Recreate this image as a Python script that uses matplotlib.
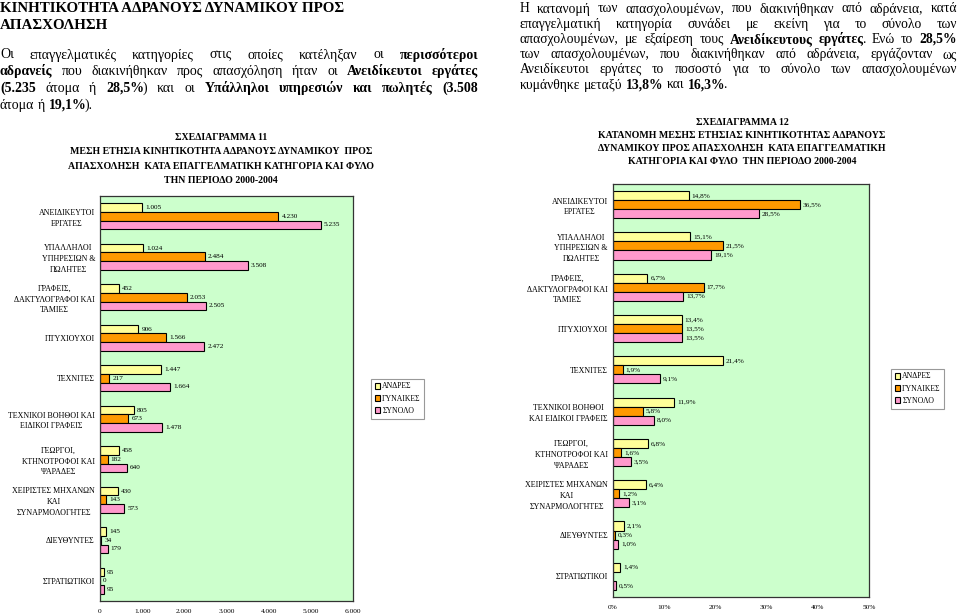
import numpy as np
import matplotlib
matplotlib.use("Agg")
import matplotlib.pyplot as plt
from matplotlib.patches import Patch

plt.rcParams["font.family"] = ["Liberation Serif", "DejaVu Serif"]

W, H = 960, 615

# ---- data -------------------------------------------------------------
series_names = ["ΑΝΔΡΕΣ", "ΓΥΝΑΙΚΕΣ", "ΣΥΝΟΛΟ"]
series_colors = ["#FFFF99", "#FF9900", "#FF99CC"]

cats_11 = ["ΑΝΕΙΔΙΚΕΥΤΟΙ\nΕΡΓΑΤΕΣ", "ΥΠΑΛΛΗΛΟΙ\nΥΠΗΡΕΣΙΩΝ &\nΠΩΛΗΤΕΣ",
           "ΓΡΑΦΕΙΣ,\nΔΑΚΤΥΛΟΓΡΑΦΟΙ ΚΑΙ\nΤΑΜΙΕΣ", "ΠΤΥΧΙΟΥΧΟΙ", "ΤΕΧΝΙΤΕΣ",
           "ΤΕΧΝΙΚΟΙ ΒΟΗΘΟΙ ΚΑΙ\nΕΙΔΙΚΟΙ ΓΡΑΦΕΙΣ",
           "ΓΕΩΡΓΟΙ,\nΚΤΗΝΟΤΡΟΦΟΙ ΚΑΙ\nΨΑΡΑΔΕΣ",
           "ΧΕΙΡΙΣΤΕΣ ΜΗΧΑΝΩΝ\nΚΑΙ\nΣΥΝΑΡΜΟΛΟΓΗΤΕΣ", "ΔΙΕΥΘΥΝΤΕΣ", "ΣΤΡΑΤΙΩΤΙΚΟΙ"]
men_11 = [1005, 1024, 452, 906, 1447, 805, 458, 430, 145, 95]
women_11 = [4230, 2484, 2053, 1566, 217, 673, 182, 143, 34, 0]
total_11 = [5235, 3508, 2505, 2472, 1664, 1478, 640, 573, 179, 95]
xticks_11 = [0, 1000, 2000, 3000, 4000, 5000, 6000]

cats_12 = ["ΑΝΕΙΔΙΚΕΥΤΟΙ\nΕΡΓΑΤΕΣ", "ΥΠΑΛΛΗΛΟΙ\nΥΠΗΡΕΣΙΩΝ &\nΠΩΛΗΤΕΣ",
           "ΓΡΑΦΕΙΣ,\nΔΑΚΤΥΛΟΓΡΑΦΟΙ ΚΑΙ\nΤΑΜΙΕΣ", "ΠΤΥΧΙΟΥΧΟΙ", "ΤΕΧΝΙΤΕΣ",
           "ΤΕΧΝΙΚΟΙ ΒΟΗΘΟΙ\nΚΑΙ ΕΙΔΙΚΟΙ ΓΡΑΦΕΙΣ",
           "ΓΕΩΡΓΟΙ,\nΚΤΗΝΟΤΡΟΦΟΙ ΚΑΙ\nΨΑΡΑΔΕΣ",
           "ΧΕΙΡΙΣΤΕΣ ΜΗΧΑΝΩΝ\nΚΑΙ\nΣΥΝΑΡΜΟΛΟΓΗΤΕΣ", "ΔΙΕΥΘΥΝΤΕΣ", "ΣΤΡΑΤΙΩΤΙΚΟΙ"]
men_12 = [14.8, 15.1, 6.7, 13.4, 21.4, 11.9, 6.8, 6.4, 2.1, 1.4]
women_12 = [36.5, 21.5, 17.7, 13.5, 1.9, 5.8, 1.6, 1.2, 0.3, None]
total_12 = [28.5, 19.1, 13.7, 13.5, 9.1, 8.0, 3.5, 3.1, 1.0, 0.5]
xticks_12 = [0, 10, 20, 30, 40, 50]

title_11 = ["ΣΧΕΔΙΑΓΡΑΜΜΑ 11",
            "ΜΕΣΗ ΕΤΗΣΙΑ ΚΙΝΗΤΙΚΟΤΗΤΑ ΑΔΡΑΝΟΥΣ ΔΥΝΑΜΙΚΟΥ  ΠΡΟΣ",
            "ΑΠΑΣΧΟΛΗΣΗ  ΚΑΤΑ ΕΠΑΓΓΕΛΜΑΤΙΚΗ ΚΑΤΗΓΟΡΙΑ ΚΑΙ ΦΥΛΟ",
            "ΤΗΝ ΠΕΡΙΟΔΟ 2000-2004"]
title_12 = ["ΣΧΕΔΙΑΓΡΑΜΜΑ 12",
            "ΚΑΤΑΝΟΜΗ ΜΕΣΗΣ ΕΤΗΣΙΑΣ ΚΙΝΗΤΙΚΟΤΗΤΑΣ ΑΔΡΑΝΟΥΣ",
            "ΔΥΝΑΜΙΚΟΥ ΠΡΟΣ ΑΠΑΣΧΟΛΗΣΗ  ΚΑΤΑ ΕΠΑΓΓΕΛΜΑΤΙΚΗ",
            "ΚΑΤΗΓΟΡΙΑ ΚΑΙ ΦΥΛΟ  ΤΗΝ ΠΕΡΙΟΔΟ 2000-2004"]

heading = ["ΚΙΝΗΤΙΚΟΤΗΤΑ ΑΔΡΑΝΟΥΣ ΔΥΝΑΜΙΚΟΥ ΠΡΟΣ", "ΑΠΑΣΧΟΛΗΣΗ"]
# text between ** pairs is bold (each line self-contained)
para_left = [
    "Οι επαγγελματικές κατηγορίες στις οποίες κατέληξαν οι **περισσότεροι**",
    "**αδρανείς** που διακινήθηκαν προς απασχόληση ήταν οι **Ανειδίκευτοι εργάτες**",
    "**(5.235** άτομα ή **28,5%**) και οι **Υπάλληλοι υπηρεσιών και πωλητές** **(3.508**",
    "άτομα ή **19,1%**).",
]
para_right = [
    "Η κατανομή των απασχολουμένων, που διακινήθηκαν από αδράνεια, κατά",
    "επαγγελματική κατηγορία συνάδει με εκείνη για το σύνολο των",
    "απασχολουμένων, με εξαίρεση τους **Ανειδίκευτους εργάτες**. Ενώ το **28,5%**",
    "των απασχολουμένων, που διακινήθηκαν από αδράνεια, εργάζονταν ως",
    "Ανειδίκευτοι εργάτες το ποσοστό για το σύνολο των απασχολουμένων",
    "κυμάνθηκε μεταξύ **13,8%** και **16,3%**.",
]

fig = plt.figure(figsize=(W / 100, H / 100), dpi=100)
renderer = fig.canvas.get_renderer()


def fx(px):
    return px / W


def fy(py):
    return 1 - py / H


def measure(s, bold, size):
    t = fig.text(0, 0, s, fontsize=size, weight="bold" if bold else "normal")
    w = t.get_window_extent(renderer).width
    t.remove()
    return w


def parse(line):
    words = [[]]
    for i, seg in enumerate(line.split("**")):
        bold = i % 2 == 1
        for j, part in enumerate(seg.split(" ")):
            if j > 0:
                words.append([])
            if part:
                words[-1].append((part, bold))
    return [w for w in words if w]


def word_width(w, size):
    # segments inside one word are drawn touching, minus a little side padding
    return sum(measure(s, b, size) for s, b in w) - 1.5 * (len(w) - 1)


def paragraph(lines, x0, x1, y0, step, size):
    """Justified paragraph, last line left-aligned."""
    space = size * 0.25 * 100 / 72
    for k, line in enumerate(lines):
        words = parse(line)
        widths = [word_width(w, size) for w in words]
        last = k == len(lines) - 1
        gap = space if last or len(words) < 2 else (x1 - x0 - sum(widths)) / (len(words) - 1)
        x = x0
        y = y0 + k * step
        for w, wd in zip(words, widths):
            xx = x
            for s, b in w:
                fig.text(fx(xx), fy(y), s, fontsize=size, va="baseline",
                         weight="bold" if b else "normal")
                xx += measure(s, b, size) - 1.5
            x += wd + gap


# ---- page text --------------------------------------------------------
for k, line in enumerate(heading):
    fig.text(fx(0), fy(12 + k * 17), line, fontsize=10.8, weight="bold", va="baseline")
paragraph(para_left, 0, 478, 58.5, 16.7, 10)
paragraph(para_right, 520, 957, 12.5, 15.2, 9.8)

for k, line in enumerate(title_11):
    fig.text(fx(221), fy(140 + k * 14.4), line, fontsize=7.1, weight="bold",
             ha="center", va="baseline")
for k, line in enumerate(title_12):
    fig.text(fx(742), fy(125 + k * 13.1), line, fontsize=7.1, weight="bold",
             ha="center", va="baseline")


# ---- charts -----------------------------------------------------------
def bar_chart(rect, cats, series, xmax, xticks, fmt_tick, fmt_val, h, show_zero):
    ax = fig.add_axes(rect)
    ax.set_facecolor("#CCFFCC")
    y = np.arange(len(cats))
    for k, (vals, color) in enumerate(zip(series, series_colors)):
        arr = np.array([np.nan if v is None else v for v in vals], dtype=float)
        pos = y + (k - 1) * h
        ax.barh(pos, np.nan_to_num(arr), height=h, color=color,
                edgecolor="black", linewidth=0.8)
        for p, v in zip(pos, arr):
            if np.isnan(v) or (v == 0 and not show_zero):
                continue
            ax.annotate(fmt_val(v), (v, p), xytext=(2.2, 0),
                        textcoords="offset points", va="center", ha="left",
                        fontsize=5.2)
    ax.set_xlim(0, xmax)
    ax.set_ylim(len(cats) - 0.5, -0.5)
    ax.set_yticks(y)
    ax.set_yticklabels(cats, fontsize=5.8, linespacing=1.45)
    for lab in ax.get_yticklabels():
        lab.set_multialignment("center")
    ax.set_xticks(xticks)
    ax.set_xticklabels([fmt_tick(t) for t in xticks], fontsize=5.3)
    ax.tick_params(axis="y", length=0, pad=3.6)
    ax.tick_params(axis="x", length=0, pad=6)
    for sp in ax.spines.values():
        sp.set_color("#333333")
        sp.set_linewidth(0.9)
    return ax


bar_chart([fx(100), fy(601), 253 / W, 405 / H], cats_11,
          [men_11, women_11, total_11], 6000, xticks_11,
          lambda t: f"{t:,}".replace(",", "."),
          lambda v: f"{int(v):,}".replace(",", "."), 0.215, True)

bar_chart([fx(613), fy(597), 256 / W, 413 / H], cats_12,
          [men_12, women_12, total_12], 50, xticks_12,
          lambda t: f"{t}%",
          lambda v: f"{v:.1f}%".replace(".", ","), 0.22, False)

handles = [Patch(facecolor=c, edgecolor="black", linewidth=0.8) for c in series_colors]
for x0, y0 in [(371, 379), (891, 369)]:
    leg = fig.legend(handles, series_names, loc="upper left",
                     bbox_to_anchor=(fx(x0), fy(y0)), borderaxespad=0,
                     fontsize=5.6, handlelength=0.75, handleheight=0.75,
                     handletextpad=0.25, labelspacing=0.55, borderpad=0.45,
                     fancybox=False, framealpha=1)
    leg.get_frame().set_edgecolor("#999999")
    leg.get_frame().set_linewidth(0.8)

fig.savefig("out.png", dpi=100)
